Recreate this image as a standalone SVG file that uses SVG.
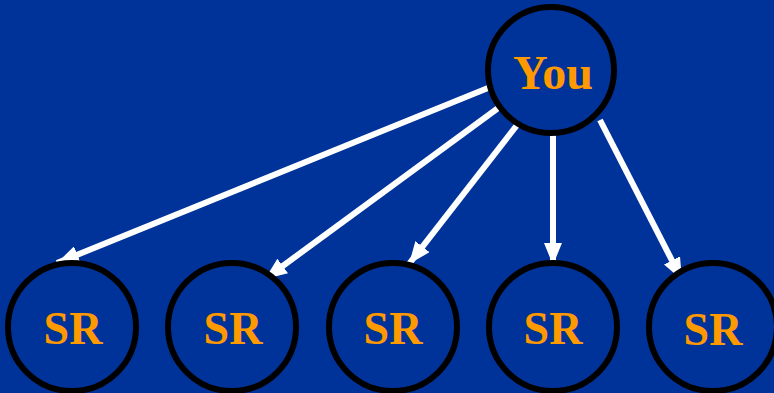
<svg xmlns="http://www.w3.org/2000/svg" width="774" height="393" viewBox="0 0 774 393">
<defs>
<marker id="ah" viewBox="0 0 22 18" refX="22" refY="9" markerWidth="22" markerHeight="18" markerUnits="userSpaceOnUse" orient="auto">
<path d="M0,0 L22,9 L0,18 Z" fill="#ffffff"/>
</marker>
<style>
.node circle{fill:#003399;stroke:#000000;stroke-width:6}
.node text{font-family:"Liberation Serif","Times New Roman",serif;font-weight:bold;font-size:46px;fill:#FF9900;text-anchor:middle}
.edge{stroke:#ffffff;stroke-width:6;fill:none;marker-end:url(#ah)}
</style>
</defs>
<rect width="774" height="393" fill="#003399"/>
<g id="connectors">
<line class="edge" x1="488" y1="88" x2="57" y2="263"/>
<line class="edge" x1="505" y1="103" x2="265" y2="279"/>
<line class="edge" x1="521" y1="120" x2="409" y2="264"/>
<line class="edge" x1="553" y1="133" x2="553" y2="265"/>
<line class="edge" x1="600" y1="120" x2="682" y2="280"/>
</g>
<g id="you" class="node"><circle cx="551" cy="70" r="63"/><text x="553" y="89" style="font-size:48px">You</text></g>
<g id="sr1" class="node"><circle cx="72" cy="327" r="64"/><text x="73" y="344">SR</text></g>
<g id="sr2" class="node"><circle cx="232" cy="327" r="64"/><text x="233" y="344">SR</text></g>
<g id="sr3" class="node"><circle cx="393" cy="327" r="64"/><text x="393" y="344">SR</text></g>
<g id="sr4" class="node"><circle cx="553" cy="327" r="64"/><text x="553" y="344">SR</text></g>
<g id="sr5" class="node"><circle cx="713" cy="327" r="64"/><text x="713" y="345">SR</text></g>
</svg>
